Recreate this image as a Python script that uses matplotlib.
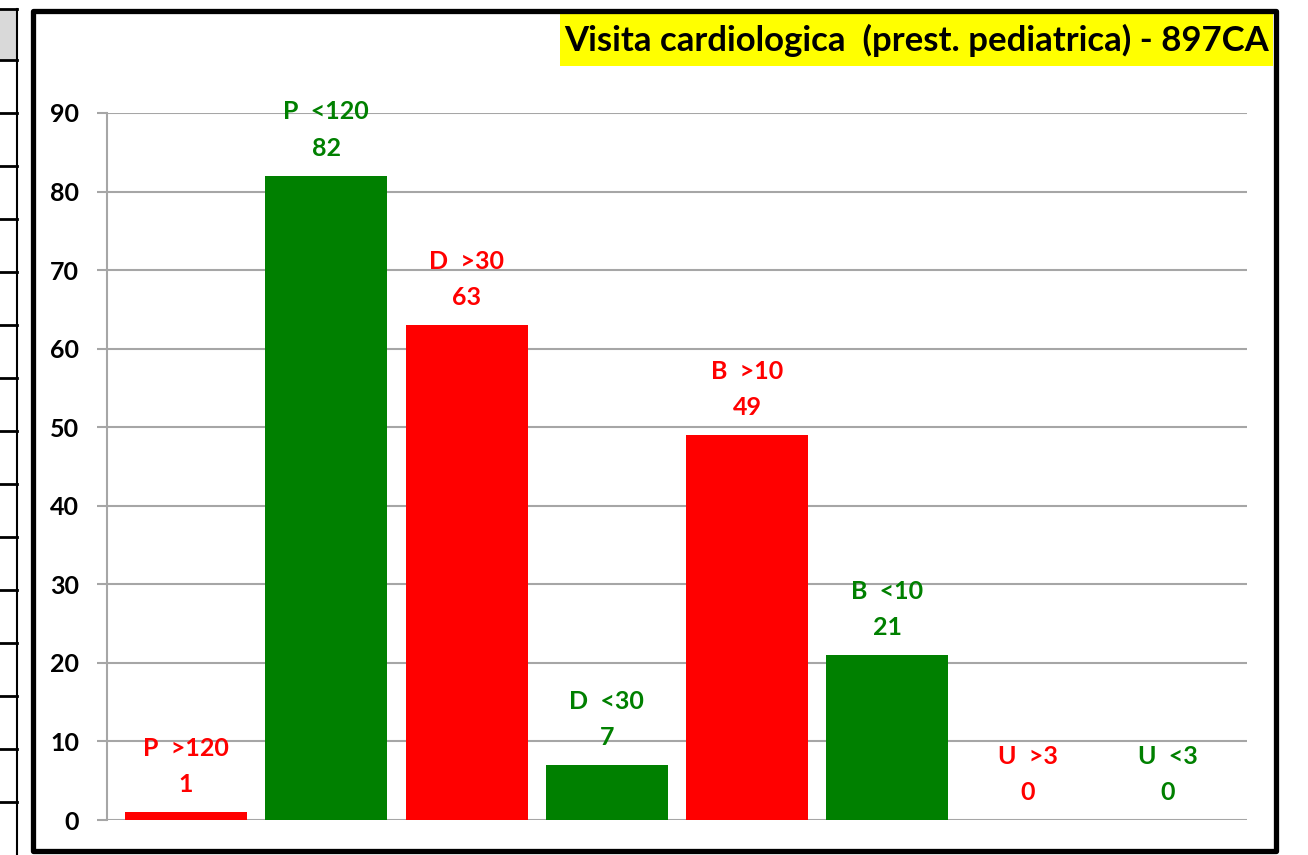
"""Bar chart: Visita cardiologica (prest. pediatrica) - 897CA
"""

import numpy as np
import matplotlib as mpl  # noqa
from matplotlib import pyplot as plt
from matplotlib.patches import Rectangle

categories = ["P  >120", "P  <120", "D  >30", "D  <30", "B  >10", "B  <10", "U  >3", "U  <3"]
values = [1, 82, 63, 7, 49, 21, 0, 0]
bar_colors = ["#FF0000", "#008000"] * 4
title = "Visita cardiologica  (prest. pediatrica) - 897CA"

FONT = ["Lato", "DejaVu Sans"]
W, H = 1308, 855


def fx(px):
    return px / W


def fy(py):
    return 1.0 - py / H


fig = plt.figure(figsize=(W / 100, H / 100), dpi=100)

# Piece of spreadsheet column peeking in on the left
fig.patches.append(Rectangle((0, fy(60)), fx(17), fy(9) - fy(60), transform=fig.transFigure,
                             facecolor="#D9D9D9", edgecolor="none", zorder=0))
for yy in [9] + list(np.arange(60, H, 53)):
    fig.add_artist(plt.Line2D([0, fx(17)], [fy(yy), fy(yy)], transform=fig.transFigure,
                              color="black", lw=2.0))
fig.add_artist(plt.Line2D([fx(17), fx(17)], [fy(9), 0], transform=fig.transFigure,
                          color="black", lw=1.5))

# Chart frame
fig.patches.append(Rectangle((fx(32.5), fy(850.5)), fx(1276 - 32.5), fy(11.5) - fy(850.5),
                             transform=fig.transFigure, facecolor="none", edgecolor="black",
                             lw=3.8, joinstyle="round", zorder=5))

# Title box
fig.patches.append(Rectangle((fx(560), fy(66)), fx(1273 - 560), fy(14) - fy(66),
                             transform=fig.transFigure, facecolor="#FFFF00", edgecolor="none",
                             zorder=1))
fig.text(fx(917), fy(40), title, ha="center", va="center", fontsize=25, fontweight="bold",
         family=FONT, zorder=2)

ax = fig.add_axes([fx(107), fy(820), fx(1247 - 107), fy(113) - fy(820)])
xx = np.arange(len(values))
ax.bar(xx, values, width=0.87, color=bar_colors, zorder=3)

ax.set_ylim(0, 90)
ax.set_xlim(-0.563, len(values) - 1 + 0.563)
ax.set_yticks(np.arange(0, 91, 10))
ax.set_xticks([])
ax.yaxis.grid(True, color="#A6A6A6", lw=1.5, zorder=0)
ax.set_axisbelow(True)
for side in ["top", "right", "bottom"]:
    ax.spines[side].set_visible(False)
ax.spines["left"].set_color("#A6A6A6")
ax.spines["left"].set_linewidth(1.5)
ax.tick_params(axis="y", length=7, width=1.5, color="#A6A6A6", pad=13)
for lab in ax.get_yticklabels():
    lab.set_family(FONT)
    lab.set_fontweight("bold")
    lab.set_fontsize(18)

for x, v, name, col in zip(xx, values, categories, bar_colors):
    ax.annotate(str(v), (x, v), xytext=(0, 20), textcoords="offset points", ha="center",
                va="center", color=col, fontsize=18, fontweight="bold", family=FONT)
    ax.annotate(name, (x, v), xytext=(0, 46), textcoords="offset points", ha="center",
                va="center", color=col, fontsize=18, fontweight="bold", family=FONT,
                annotation_clip=False)

fig.savefig("out.png", dpi=100)
